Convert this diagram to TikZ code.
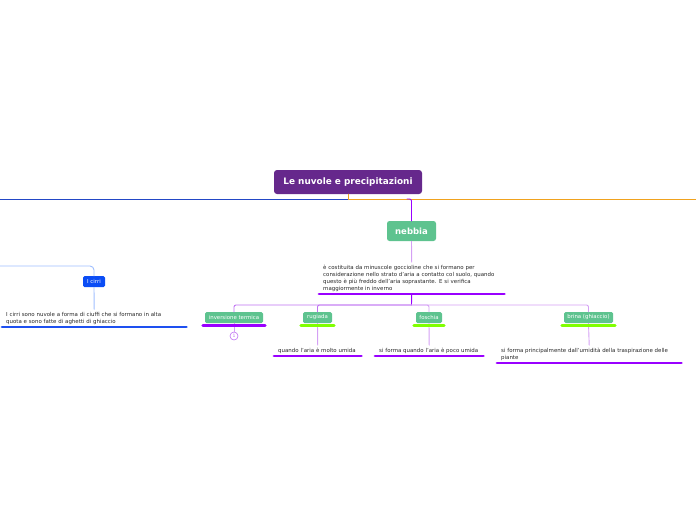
\documentclass[tikz,border=0pt]{standalone}
\usepackage{fontspec}
\setmainfont{DejaVu Sans}
\usetikzlibrary{positioning}
\definecolor{rootpurple}{HTML}{66288C}
\definecolor{topicgreen}{HTML}{5EC38F}
\definecolor{cirriblue}{HTML}{0B4DF5}
\definecolor{linkblue}{HTML}{2347C6}
\definecolor{linkorange}{HTML}{F0A21E}
\definecolor{markpurple}{HTML}{9900FF}
\definecolor{markgreen}{HTML}{80FF00}
\definecolor{markblue}{HTML}{1E50F0}
\definecolor{palepurple}{HTML}{D4A0F4}
\definecolor{midpurple}{HTML}{BE70F2}
\definecolor{paleblue}{HTML}{9FBEFF}
\definecolor{txtgray}{HTML}{262626}
\tikzset{
  every picture/.style={line join=round, line cap=round},
  rootbox/.style={fill=rootpurple, rounded corners=3pt, text=white, inner sep=0pt,
    font=\fontsize{8.9}{10}\selectfont\bfseries, minimum width=148, minimum height=24},
  topicbox/.style={fill=topicgreen, rounded corners=2.5pt, text=white, inner sep=0pt,
    font=\fontsize{8.5}{10}\selectfont\bfseries, minimum width=49, minimum height=20},
  subbox/.style={fill=topicgreen, rounded corners=1.5pt, text=white, inner sep=0pt,
    font=\fontsize{5.4}{6}\selectfont, minimum height=11},
  note/.style={text=txtgray, align=left, inner xsep=4pt, inner ysep=2.5pt,
    font=\fontsize{5.45}{7}\selectfont},
  link/.style={line width=0.9pt},
  underbar/.style={line width=2.8pt},
}

\begin{document}
\begin{tikzpicture}[x=1pt,y=-1pt]
\useasboundingbox (0,0) rectangle (696,520);
% root and main line
\node[rootbox] (root) at (348,182) {Le nuvole e precipitazioni};
\coordinate (westend) at (0,199);
\coordinate (eastend) at (696,199);
\coordinate (fork) at (348,199);
\coordinate (nebbiafork) at (407,199);
\draw[link,linkblue] (fork) -- (westend);
\draw[link,linkorange] (root.south) -- (fork) -- (eastend);

% nebbia
\node[topicbox] (nebbia) at (411.5,231) {nebbia};
\draw[link,markpurple,rounded corners=2pt] (nebbiafork) -| (nebbia.north);
\node[note,text width=177pt,anchor=south west] (nebbianote) at (319,294)
  {è costituita da minuscole goccioline che si formano per\\
   considerazione nello strato d'aria a contatto col suolo, quando\\
   questo è più freddo dell'aria soprastante. E si verifica\\
   maggiormente in inverno};
\draw[link,palepurple] (nebbia.south) -- (nebbianote.north);
\draw[underbar,markpurple] (nebbianote.south west) -- (nebbianote.south east);

% sub-topics of nebbia
\coordinate (hub) at (411.5,305);
\node[subbox,minimum width=58] (inversione) at (234,317.5) {inversione termica};
\node[subbox,minimum width=29] (rugiada) at (317.5,317.5) {rugiada};
\node[subbox,minimum width=26] (foschia) at (429,317.5) {foschia};
\node[subbox,minimum width=49] (brina) at (588.5,317.5) {brina (ghiaccio)};
\draw[link,markpurple] (nebbianote.south) -- (hub);
\foreach \sub in {inversione,rugiada}
  \draw[link,midpurple,rounded corners=2pt] (hub) -| (\sub.north);
\foreach \sub in {foschia,brina}
  \draw[link,palepurple,rounded corners=2pt] (hub) -| (\sub.north);

% notes below the sub-topics
\node[note,text width=79pt,anchor=south west] (rugiadanote) at (274,356)
  {quando l'aria è molto umida};
\node[note,text width=100pt,anchor=south west] (foschianote) at (375,356)
  {si forma quando l'aria è poco umida};
\node[note,text width=176pt,anchor=south west] (brinanote) at (497,363)
  {si forma principalmente dall'umidità della traspirazione delle\\ piante};
\node[draw=midpurple,circle,line width=0.6pt,minimum size=8pt,inner sep=0pt,
  text=midpurple,font=\fontsize{4.5}{5}\selectfont] (count) at (234,336) {1};
\draw[link,palepurple] (inversione.south) -- (count.north);
\foreach \sub in {rugiada,foschia,brina}
  \draw[link,palepurple] (\sub.south) -- (\sub note.north);
\draw[underbar,markpurple] ([xshift=-2pt,yshift=-2pt]inversione.south west)
  -- ([xshift=2pt,yshift=-2pt]inversione.south east);
\foreach \sub in {rugiada,foschia,brina}
  \draw[underbar,markgreen] ([xshift=-2pt,yshift=-2pt]\sub.south west)
    -- ([xshift=2pt,yshift=-2pt]\sub.south east);
\foreach \sub in {rugiada,foschia,brina}
  \draw[underbar,markpurple] (\sub note.south west) -- (\sub note.south east);

% i cirri
\coordinate (cirrilink) at (0,266);
\node[subbox,fill=cirriblue,minimum width=22] (cirri) at (94,281.5) {I cirri};
\draw[link,paleblue,rounded corners=4pt] (cirrilink) -| (cirri.north);
\node[note,text width=176pt,anchor=south west] (cirrinote) at (2,327)
  {I cirri sono nuvole a forma di ciuffi che si formano in alta\\
   quota e sono fatte di aghetti di ghiaccio};
\draw[link,paleblue] (cirri.south) -- (cirrinote.north);
\draw[underbar,markblue] (cirrinote.south west) -- (cirrinote.south east);
\end{tikzpicture}
\end{document}
